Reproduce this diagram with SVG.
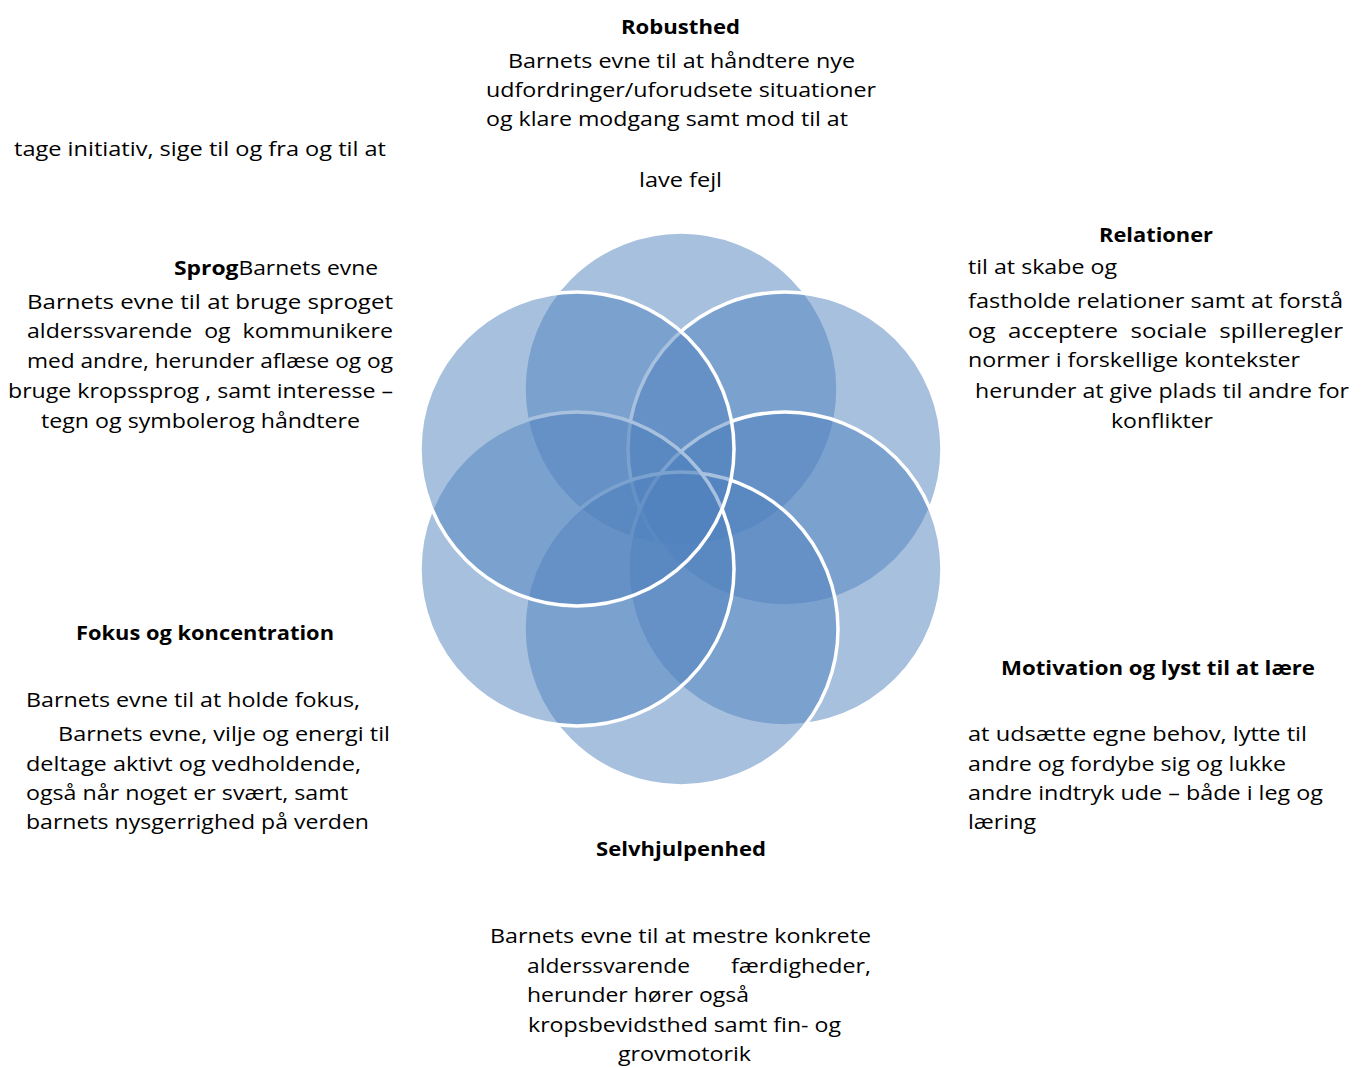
<svg xmlns="http://www.w3.org/2000/svg" width="1365" height="1068" viewBox="0 0 1365 1068">
<style>
  .c { fill: #4f81bd; fill-opacity: 0.5; stroke: #ffffff; stroke-width: 3.5; }
  text { font-family: "Open Sans", "Liberation Sans", sans-serif; font-size: 19.5px; fill: #000000; }
  .b { font-weight: bold; }
</style>
<rect width="1365" height="1068" fill="#ffffff"/>
<g id="connectors"/>
<g id="node-robusthed">
  <circle class="c" cx="681" cy="389" r="157"/>
  <text class="b" x="621" y="34" textLength="119" lengthAdjust="spacingAndGlyphs">Robusthed</text>
  <text x="508" y="68" textLength="347" lengthAdjust="spacingAndGlyphs">Barnets evne til at håndtere nye</text>
  <text x="486" y="97" textLength="390" lengthAdjust="spacingAndGlyphs">udfordringer/uforudsete situationer</text>
  <text x="486" y="126" textLength="362" lengthAdjust="spacingAndGlyphs">og klare modgang samt mod til at</text>
  <text x="639" y="187" textLength="83" lengthAdjust="spacingAndGlyphs">lave fejl</text>
</g>
<g id="node-relationer">
  <circle class="c" cx="785" cy="449" r="157"/>
  <text class="b" x="1099" y="242" textLength="114" lengthAdjust="spacingAndGlyphs">Relationer</text>
  <text x="968" y="274" textLength="149" lengthAdjust="spacingAndGlyphs">til at skabe og</text>
  <text x="968" y="308" textLength="375" lengthAdjust="spacingAndGlyphs">fastholde relationer samt at forstå</text>
  <text x="968" y="338" textLength="375" lengthAdjust="spacingAndGlyphs" xml:space="preserve">og  acceptere  sociale  spilleregler</text>
  <text x="968" y="367" textLength="332" lengthAdjust="spacingAndGlyphs">normer i forskellige kontekster</text>
  <text x="975" y="398" textLength="374" lengthAdjust="spacingAndGlyphs">herunder at give plads til andre for</text>
  <text x="1111" y="428" textLength="102" lengthAdjust="spacingAndGlyphs">konflikter</text>
</g>
<g id="node-motivation">
  <circle class="c" cx="785" cy="569" r="157"/>
  <text class="b" x="1001" y="675" textLength="314" lengthAdjust="spacingAndGlyphs">Motivation og lyst til at lære</text>
  <text x="968" y="741" textLength="339" lengthAdjust="spacingAndGlyphs">at udsætte egne behov, lytte til</text>
  <text x="968" y="771" textLength="318" lengthAdjust="spacingAndGlyphs">andre og fordybe sig og lukke</text>
  <text x="968" y="800" textLength="355" lengthAdjust="spacingAndGlyphs">andre indtryk ude – både i leg og</text>
  <text x="968" y="829" textLength="68" lengthAdjust="spacingAndGlyphs">læring</text>
</g>
<g id="node-selvhjulpenhed">
  <circle class="c" cx="681" cy="629" r="157"/>
  <text class="b" x="596" y="856" textLength="170" lengthAdjust="spacingAndGlyphs">Selvhjulpenhed</text>
  <text x="490" y="943" textLength="381" lengthAdjust="spacingAndGlyphs">Barnets evne til at mestre konkrete</text>
  <text x="527" y="973" textLength="163" lengthAdjust="spacingAndGlyphs">alderssvarende</text>
  <text x="731" y="973" textLength="140" lengthAdjust="spacingAndGlyphs">færdigheder,</text>
  <text x="527" y="1002" textLength="222" lengthAdjust="spacingAndGlyphs">herunder hører også</text>
  <text x="528" y="1032" textLength="313" lengthAdjust="spacingAndGlyphs">kropsbevidsthed samt fin- og</text>
  <text x="618" y="1061" textLength="133" lengthAdjust="spacingAndGlyphs">grovmotorik</text>
</g>
<g id="node-fokus">
  <circle class="c" cx="577" cy="569" r="157"/>
  <text class="b" x="76" y="640" textLength="258" lengthAdjust="spacingAndGlyphs">Fokus og koncentration</text>
  <text x="26" y="707" textLength="334" lengthAdjust="spacingAndGlyphs">Barnets evne til at holde fokus,</text>
  <text x="58" y="741" textLength="332" lengthAdjust="spacingAndGlyphs">Barnets evne, vilje og energi til</text>
  <text x="26" y="771" textLength="335" lengthAdjust="spacingAndGlyphs">deltage aktivt og vedholdende,</text>
  <text x="26" y="800" textLength="322" lengthAdjust="spacingAndGlyphs">også når noget er svært, samt</text>
  <text x="26" y="829" textLength="343" lengthAdjust="spacingAndGlyphs">barnets nysgerrighed på verden</text>
</g>
<g id="node-sprog">
  <circle class="c" cx="577" cy="449" r="157"/>
  <text x="14" y="156" textLength="372" lengthAdjust="spacingAndGlyphs">tage initiativ, sige til og fra og til at</text>
  <text x="174" y="275" textLength="204" lengthAdjust="spacingAndGlyphs"><tspan class="b">Sprog</tspan>Barnets evne</text>
  <text x="27" y="309" textLength="366" lengthAdjust="spacingAndGlyphs">Barnets evne til at bruge sproget</text>
  <text x="27" y="338" textLength="366" lengthAdjust="spacingAndGlyphs" xml:space="preserve">alderssvarende  og  kommunikere</text>
  <text x="27" y="368" textLength="366" lengthAdjust="spacingAndGlyphs">med andre, herunder aflæse og og</text>
  <text x="8" y="398" textLength="385" lengthAdjust="spacingAndGlyphs">bruge kropssprog , samt interesse –</text>
  <text x="41" y="428" textLength="319" lengthAdjust="spacingAndGlyphs">tegn og symbolerog håndtere</text>
</g>
</svg>
